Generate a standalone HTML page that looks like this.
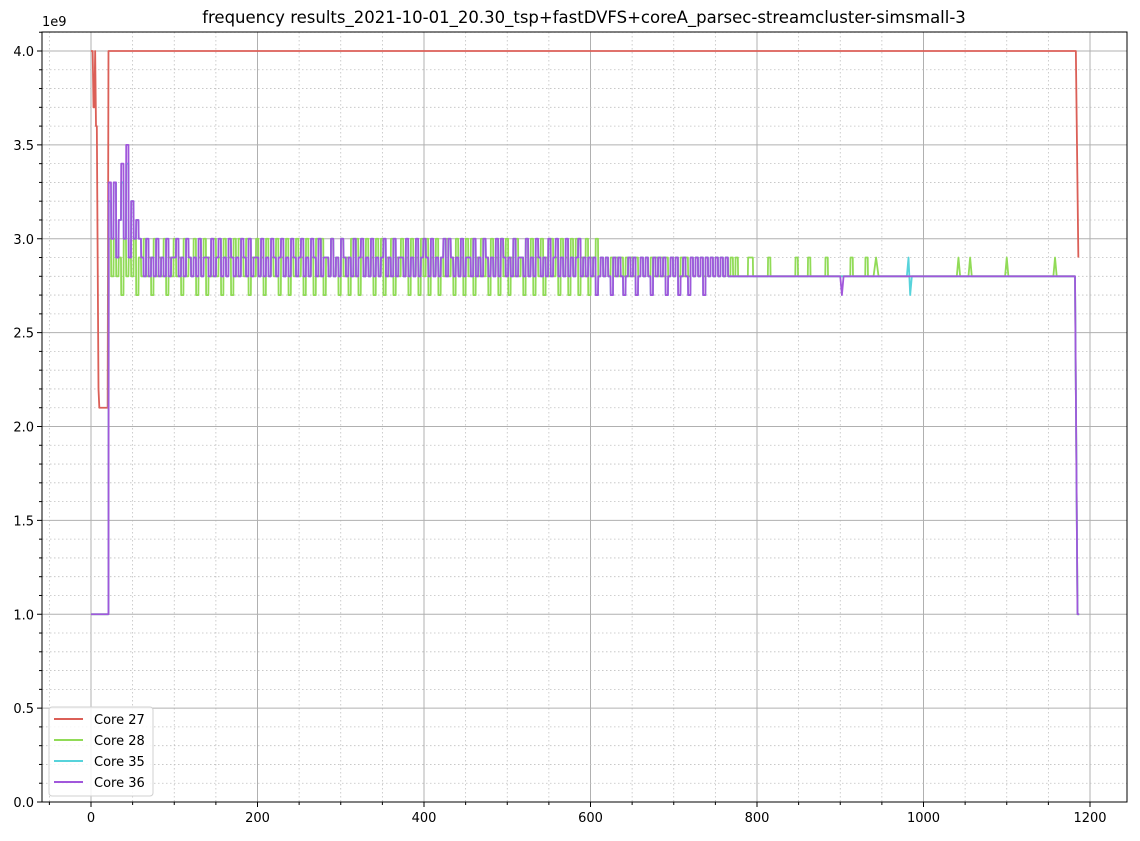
<!DOCTYPE html>
<html><head><meta charset="utf-8"><style>
body{margin:0;background:#fff}
svg text{font-family:"DejaVu Sans","Liberation Sans",sans-serif;fill:#000}
</style></head><body>
<svg id="chart" width="1140" height="836" xmlns="http://www.w3.org/2000/svg"></svg>
<script>
// ---- data ----
const xTicks=[0,200,400,600,800,1000,1200];
const yTicks=[0,0.5,1.0,1.5,2.0,2.5,3.0,3.5,4.0];
const yTickLabels=["0.0","0.5","1.0","1.5","2.0","2.5","3.0","3.5","4.0"];
const seriesNames=["Core 27","Core 28","Core 35","Core 36"];
const seriesColors=["#db5f57","#91db57","#57d3db","#a157db"];
// Core 27: explicit points (time, GHz)
const core27T=[0,2,3,4,5,6,7,9,10,20,21,1183,1186];
const core27V=[4.0,4.0,3.7,3.7,4.0,3.6,3.6,2.2,2.1,2.1,4.0,4.0,2.9];
// noisy sections: digit code c -> 2.7 + 0.1*c, one sample every 3 time units from t=21
const core36Noise="6362473825343"+"2131213121312231213212131221312312132121321312213121321231213212312132131221312132121312312131212312131221312131232131212313212131221312132121313212131221312132121312312131212312"+"121201212102121012120121210212120121201210212120212121212";
const core28Noise="3131203121302131"+"2031213021312031213021302131203120313213021312031213021302131203120313021312031203130213120313021302131203120313021302131203120313021312031203130213120313021302131203120313021302131"+"2121212121212121212121212121212121212121212121212121212"+"11112211111121111111111211112111111211111111121111121";
const core35Noise="5362463725343"+"2131213121312231213212131221312312132121321312213121321231213212312132131221312132121312312131212312131221312131232131212313212131221312132121313212131221312132121312312131212312"+"121201212102121012120121210212120121201210212120212121212";
// tails: [time, GHz]
const core28Tail=[[940,2.8],[943,2.9],[946,2.8],[1040,2.8],[1042,2.9],[1044,2.8],[1054,2.8],[1056,2.9],[1058,2.8],[1098,2.8],[1100,2.9],[1102,2.8],[1156,2.8],[1158,2.9],[1160,2.8],[1182,2.8],[1185,1.0],[1187,1.0]];
const core35Tail=[[980,2.8],[982,2.9],[984,2.7],[986,2.8],[1182,2.8],[1185,1.0],[1187,1.0]];
const core36Tail=[[900,2.8],[902,2.7],[904,2.8],[1182,2.8],[1185,1.0],[1187,1.0]];

// ---- axes ----
const L=42,R=1127,T=32,B=802;
const X=v=>91+v*0.8325;
const Y=g=>802-g*187.75;
const svg=document.getElementById('chart');
const NS="http://www.w3.org/2000/svg";
function mk(tag,attrs,parent){const e=document.createElementNS(NS,tag);for(const k in attrs)e.setAttribute(k,attrs[k]);(parent||svg).appendChild(e);return e;}

function buildSeries(noise,tail){
  const pts=[[0,1.0],[20,1.0]];
  let prev=1.0;
  for(let i=0;i<noise.length;i++){const t=21+3*i;const v=2.7+0.1*(+noise[i]);
    pts.push([t,prev]);pts.push([t+0.3,v]);prev=v;}
  const last=21+3*noise.length;
  pts.push([last,prev]);pts.push([last+0.3,2.8]);
  for(const p of tail)if(p[0]>last)pts.push(p);
  return pts;
}
const series=[
  core27T.map((t,i)=>[t,core27V[i]]),
  buildSeries(core28Noise,core28Tail),
  buildSeries(core35Noise,core35Tail),
  buildSeries(core36Noise,core36Tail)
];

// grid
const grid=mk('g',{});


for(let v=-50;v<=1250;v+=50){const x=X(v);if(x<L||x>R)continue;
  const major=v%200===0;
  mk('line',{x1:x,x2:x,y1:T,y2:B,stroke:major?'#b0b0b0':'#c0c0c0','stroke-width':major?1:0.8,'stroke-dasharray':major?'':'1.5,2.5'},grid);}
for(let k=0;k<=41;k++){const g=k/10;const y=Y(g);if(y<T)continue;
  const major=k%5===0;
  mk('line',{x1:L,x2:R,y1:y,y2:y,stroke:major?'#b0b0b0':'#c0c0c0','stroke-width':major?1:0.8,'stroke-dasharray':major?'':'1.5,2.5'},grid);}

// series
series.forEach((pts,i)=>{
  const d=pts.map((p,j)=>(j?'L':'M')+X(p[0]).toFixed(2)+','+Y(p[1]).toFixed(2)).join('');
  const p=mk('path',{d:d,fill:'none',stroke:seriesColors[i],'stroke-width':1.8,'stroke-linejoin':'round'});
  
  
});

// frame
const frame=mk('rect',{x:L,y:T,width:R-L,height:B-T,fill:'none',stroke:'#000','stroke-width':1});



// x ticks
for(let v=-50;v<=1250;v+=50){const x=X(v);if(x<L||x>R)continue;const major=v%200===0;
  mk('line',{x1:x,x2:x,y1:B,y2:B+(major?5:3),stroke:'#000','stroke-width':1});}
xTicks.forEach(v=>{const t=mk('text',{x:X(v),y:B+20,'text-anchor':'middle','font-size':13});t.textContent=v;
  
  });
// y ticks
for(let k=0;k<=41;k++){const y=Y(k/10);if(y<T)continue;const major=k%5===0;
  mk('line',{x1:L,x2:L-(major?5:3),y1:y,y2:y,stroke:'#000','stroke-width':1});}
yTicks.forEach((g,i)=>{const t=mk('text',{x:L-8,y:Y(g)+5,'text-anchor':'end','font-size':13});t.textContent=yTickLabels[i];
  
  });
const off=mk('text',{x:L,y:26,'font-size':13});off.textContent='1e9';



// title
const title=mk('text',{x:584,y:23,'text-anchor':'middle','font-size':16.5});
title.textContent='frequency results_2021-10-01_20.30_tsp+fastDVFS+coreA_parsec-streamcluster-simsmall-3';



// legend
const lg=mk('g',{});


mk('rect',{x:49,y:707,width:104,height:89,rx:3,fill:'#fff','fill-opacity':0.85,stroke:'#d0d0d0'},lg);
seriesNames.forEach((n,i)=>{const y=719+i*21;
  const e=mk('g',{},lg);
  
  
  mk('line',{x1:54,x2:83,y1:y,y2:y,stroke:seriesColors[i],'stroke-width':2},e);
  const t=mk('text',{x:94,y:y+5,'font-size':13},e);t.textContent=n;});
</script>
</body></html>
